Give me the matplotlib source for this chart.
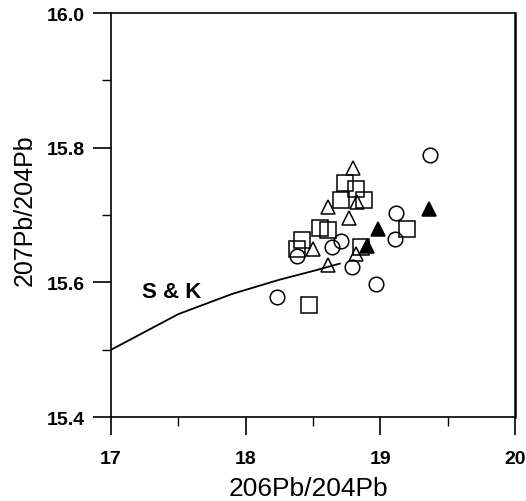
import matplotlib
matplotlib.use('Agg')
import matplotlib.pyplot as plt
from matplotlib.ticker import MultipleLocator

plt.rcParams['font.family'] = ['Liberation Sans', 'DejaVu Sans']

# open circles
circ_x = [19.37, 19.12, 19.11, 18.71, 18.64, 18.38, 18.79, 18.97, 18.23]
circ_y = [15.789, 15.703, 15.665, 15.661, 15.652, 15.639, 15.623, 15.597, 15.579]

# open squares
sq_x = [18.74, 18.82, 18.71, 18.88, 18.55, 18.61, 18.42, 18.38, 19.20, 18.86, 18.47]
sq_y = [15.747, 15.739, 15.722, 15.722, 15.681, 15.678, 15.663, 15.649, 15.680, 15.652, 15.567]

# open triangles
tri_x = [18.80, 18.61, 18.83, 18.77, 18.50, 18.82, 18.61]
tri_y = [15.770, 15.712, 15.719, 15.696, 15.649, 15.643, 15.626]

# filled triangles
ftri_x = [19.36, 18.98, 18.90]
ftri_y = [15.709, 15.679, 15.654]

# S & K growth curve
sk_x = [17.0, 17.5, 17.9, 18.25, 18.5, 18.7]
sk_y = [15.500, 15.553, 15.583, 15.604, 15.617, 15.628]

fig = plt.figure(figsize=(5.26, 5.02), dpi=100)
ax = fig.add_axes([0.211, 0.167, 0.768, 0.805])

ax.plot(sk_x, sk_y, color='black', lw=1.3)
ax.text(17.45, 15.587, 'S & K', fontsize=16, fontweight='bold', ha='center', va='center')

mk = dict(linestyle='none', markeredgecolor='black', markeredgewidth=1.1)
ax.plot(circ_x, circ_y, marker='o', markersize=10.5, markerfacecolor='none', **mk)
ax.plot(sq_x, sq_y, marker='s', markersize=11, markerfacecolor='none', **mk)
ax.plot(tri_x, tri_y, marker='^', markersize=9.5, markerfacecolor='none', **mk)
ax.plot(ftri_x, ftri_y, marker='^', markersize=9.5, markerfacecolor='black', **mk)

ax.set_xlim(17, 20)
ax.set_ylim(15.4, 16.0)
ax.xaxis.set_major_locator(MultipleLocator(1))
ax.xaxis.set_minor_locator(MultipleLocator(0.5))
ax.yaxis.set_major_locator(MultipleLocator(0.2))
ax.yaxis.set_minor_locator(MultipleLocator(0.1))
ax.yaxis.set_major_formatter(plt.FormatStrFormatter('%.1f'))

ax.tick_params(which='major', direction='out', length=13, width=1.2)
ax.tick_params(which='minor', direction='out', length=6.5, width=1.0)
ax.tick_params(axis='x', which='major', pad=11)
ax.tick_params(axis='y', which='major', pad=6)
for lab in ax.get_xticklabels() + ax.get_yticklabels():
    lab.set_fontsize(14)
    lab.set_fontweight('bold')

for s in ax.spines.values():
    s.set_linewidth(1.2)
ax.spines['right'].set_linewidth(1.8)

ax.set_xlabel('206Pb/204Pb', fontsize=19)
ax.set_ylabel('207Pb/204Pb', fontsize=18)
ax.xaxis.set_label_coords(0.49, -0.145)
ax.yaxis.set_label_coords(-0.183, 0.515)

fig.savefig('out.png', dpi=100)
